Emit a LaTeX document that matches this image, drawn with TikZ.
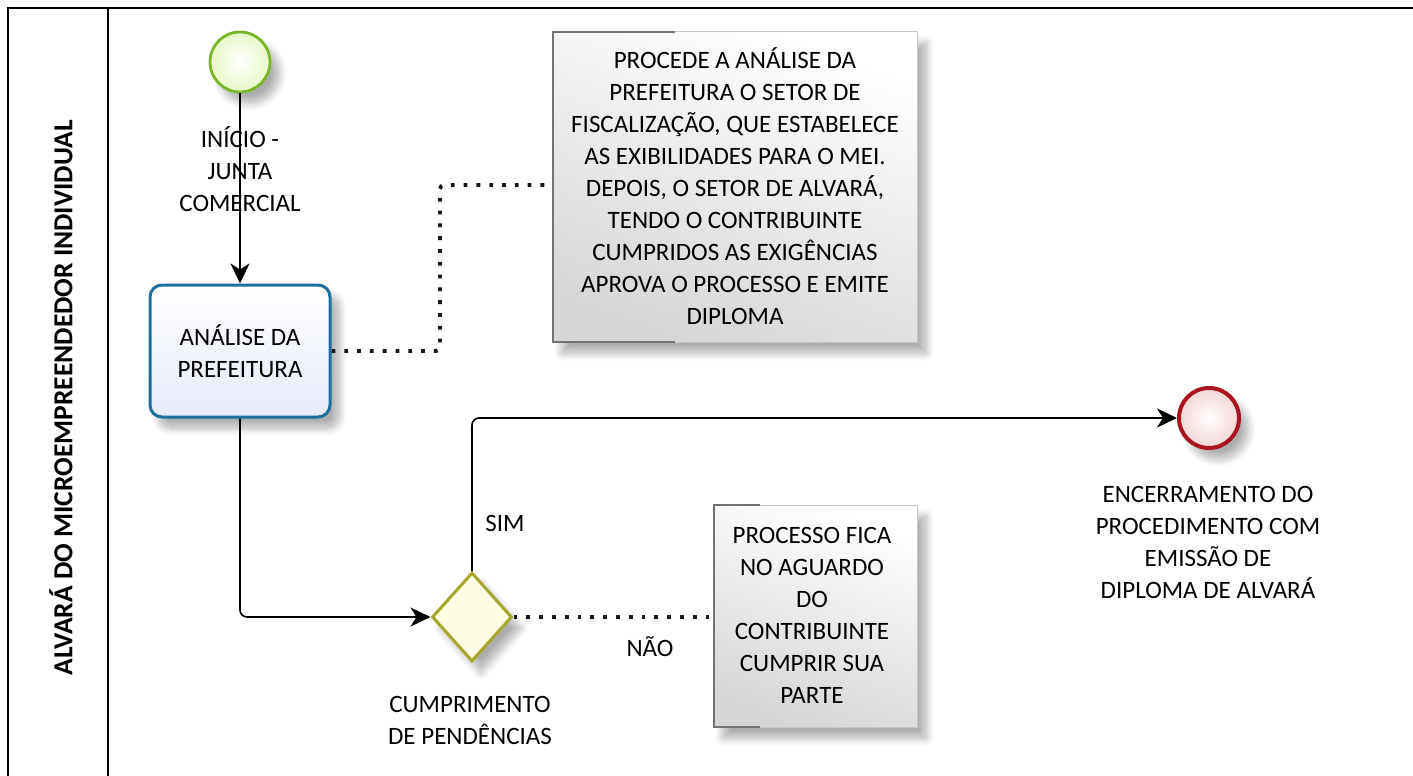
\documentclass[tikz,border=0pt]{standalone}
\usepackage{fontspec}
\setmainfont{Carlito}
\usetikzlibrary{arrows.meta,shadows.blur,shapes.geometric}
\definecolor{startgreen}{HTML}{79B62A}
\definecolor{startfill}{HTML}{E9F7C8}
\definecolor{taskblue}{HTML}{1F6E9E}
\definecolor{taskfill}{HTML}{E6EBFA}
\definecolor{gateolive}{HTML}{A8A62A}
\definecolor{gatefill}{HTML}{FDFDE4}
\definecolor{endred}{HTML}{A81520}
\definecolor{endfill}{HTML}{F3D6D6}
\tikzset{
  x=1pt, y=-1pt,
  txt/.style={font=\fontsize{25}{32}\selectfont, align=center, text=black, inner sep=0pt},
  shad/.style={blur shadow={shadow xshift=9pt, shadow yshift=-11pt, shadow opacity=32, shadow blur steps=10, shadow blur radius=8pt}},
  flow/.style={line width=1.6pt, draw=black, -{Stealth[length=20pt,width=19pt,inset=6pt]}},
  assoc/.style={line width=3.8pt, draw=black!90, dash pattern=on 3.8pt off 9pt},
  startev/.style={circle, draw=startgreen, line width=2.8pt, minimum size=60pt, inner sep=0pt, inner color=white, outer color=startfill, shad},
  endev/.style={circle, draw=endred, line width=4pt, minimum size=60pt, inner sep=0pt, inner color=white, outer color=endfill, shad},
  taskbox/.style={rectangle, rounded corners=12pt, draw=taskblue, line width=3pt, minimum width=180pt, minimum height=132pt, top color=white, bottom color=taskfill, shad},
  gate/.style={diamond, draw=gateolive, line width=3pt, minimum width=80pt, minimum height=89pt, inner sep=0pt, fill=gatefill, shad},
  annot/.style={rectangle, draw=black!22, line width=1pt, shading=axis, top color=white, bottom color=black!16, shading angle=-20, shad},
}
\begin{document}
\begin{tikzpicture}
\useasboundingbox (0,0) rectangle (1413,776);
% pool frame
\draw[line width=1.6pt] (1413,8) -- (8,8) -- (8,776);
\draw[line width=1.6pt] (108,8) -- (108,776);
\node[rotate=90, font=\bfseries\fontsize{27.5}{30}\selectfont, inner sep=0pt] (pool) at (61,398) {ALVARÁ DO MICROEMPREENDEDOR INDIVIDUAL};

% nodes
\node[startev] (start) at (240,62) {};
\node[taskbox] (task) at (240,351) {};
\node[txt] (tasktxt) at (240,351) {ANÁLISE DA\\PREFEITURA};
\node[gate] (gw) at (472,617) {};
\node[endev] (end) at (1209,418) {};

% annotation 1
\node[annot, minimum width=364pt, minimum height=310pt] (ann1) at (735,187) {};
\draw[black!55, line width=1.6pt] (675,32) -- (553,32) -- (553,342) -- (675,342);
\node[txt] (ann1txt) at (735,186) {PROCEDE A ANÁLISE DA\\PREFEITURA O SETOR DE\\FISCALIZAÇÃO, QUE ESTABELECE\\AS EXIBILIDADES PARA O MEI.\\DEPOIS, O SETOR DE ALVARÁ,\\TENDO O CONTRIBUINTE\\CUMPRIDOS AS EXIGÊNCIAS\\APROVA O PROCESSO E EMITE\\DIPLOMA};

% annotation 2
\node[annot, minimum width=203pt, minimum height=222pt] (ann2) at (815.5,616) {};
\draw[black!55, line width=1.6pt] (760,505) -- (714,505) -- (714,727) -- (760,727);
\node[txt] (ann2txt) at (812,615) {PROCESSO FICA\\NO AGUARDO\\DO\\CONTRIBUINTE\\CUMPRIR SUA\\PARTE};

% labels
\node[txt] (startlbl) at (240,169) {INÍCIO -\\JUNTA\\COMERCIAL};
\node[txt] (gwlbl) at (470,720) {CUMPRIMENTO\\DE PENDÊNCIAS};
\node[txt] (endlbl) at (1208,542) {ENCERRAMENTO DO\\PROCEDIMENTO COM\\EMISSÃO DE\\DIPLOMA DE ALVARÁ};
\node[txt] (sim) at (505,523) {SIM};
\node[txt] (nao) at (650,647) {NÃO};

% connectors
\draw[flow] (start.south) -- (task.north);
\draw[flow, rounded corners=7pt] (task.south) |- (gw.west);
\draw[flow, rounded corners=7pt] (gw.north) |- (end.west);
\draw[assoc, rounded corners=4pt] (task.east) -- (440,351) -- (440,185) -- (ann1.west |- 0,185);
\draw[assoc] (gw.east) -- (ann2.west |- gw.east);
\end{tikzpicture}
\end{document}
